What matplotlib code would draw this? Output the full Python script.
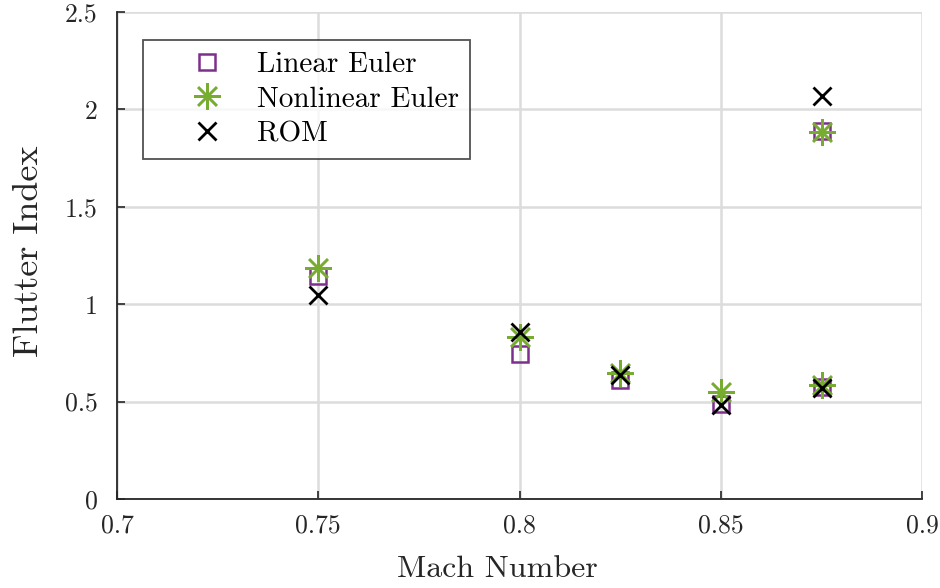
import numpy as np
import matplotlib
matplotlib.use("Agg")
import matplotlib.pyplot as plt

# Data
mach = [0.75, 0.80, 0.825, 0.85, 0.875, 0.875]
linear_euler = [1.145, 0.745, 0.61, 0.49, 0.575, 1.89]
nonlinear_euler = [1.185, 0.83, 0.645, 0.55, 0.585, 1.885]
rom = [1.045, 0.855, 0.635, 0.48, 0.57, 2.07]

plt.rcParams['font.family'] = ['cmr10', 'DejaVu Serif']
plt.rcParams['axes.formatter.use_mathtext'] = True
plt.rcParams['mathtext.fontset'] = 'cm'

fig = plt.figure(figsize=(9.4, 5.88), dpi=100)
ax = fig.add_axes([0.1245, 0.1514, 0.8565, 0.8282])

purple = '#7E2F8E'
green = '#77AC30'

ax.plot(mach, linear_euler, linestyle='none', marker='s', markersize=12,
        markerfacecolor='none', markeredgecolor=purple, markeredgewidth=1.8,
        label='Linear Euler')
ax.plot(mach, nonlinear_euler, linestyle='none', marker=(8, 2, 0), markersize=19,
        color=green, markeredgewidth=1.8, label='Nonlinear Euler')
ax.plot(mach, rom, linestyle='none', marker='x', markersize=13,
        color='black', markeredgewidth=2.0, label='ROM')

ax.set_xlim(0.7, 0.9)
ax.set_ylim(0, 2.5)
ax.set_xticks([0.7, 0.75, 0.8, 0.85, 0.9])
ax.set_xticklabels(['0.7', '0.75', '0.8', '0.85', '0.9'])
ax.set_yticks([0, 0.5, 1, 1.5, 2, 2.5])
ax.set_yticklabels(['0', '0.5', '1', '1.5', '2', '2.5'])

ax.grid(True, color='#dcdcdc', linewidth=1.8)
ax.set_axisbelow(True)
ax.spines['top'].set_visible(False)
ax.spines['right'].set_visible(False)
for s in ['left', 'bottom']:
    ax.spines[s].set_linewidth(1.3)
    ax.spines[s].set_color('#262626')
ax.tick_params(direction='in', length=6, width=1.2, labelsize=18.5, colors='#262626')
ax.tick_params(axis='x', pad=11)
ax.tick_params(axis='y', pad=14)

ax.set_xlabel('Mach Number', fontsize=23, color='#262626')
ax.set_ylabel('Flutter Index', fontsize=26, color='#262626')
ax.xaxis.set_label_coords(0.473, -0.116)
ax.yaxis.set_label_coords(-0.0895, 0.509)

leg = ax.legend(loc='upper left', bbox_to_anchor=(0.032, 0.9425), fontsize=21,
                frameon=True, fancybox=False, edgecolor='#262626',
                handletextpad=-0.08, borderpad=0.4, labelspacing=0.28,
                handlelength=3.58, borderaxespad=0)
leg.get_frame().set_linewidth(1.3)

fig.savefig('out.png', dpi=100)
